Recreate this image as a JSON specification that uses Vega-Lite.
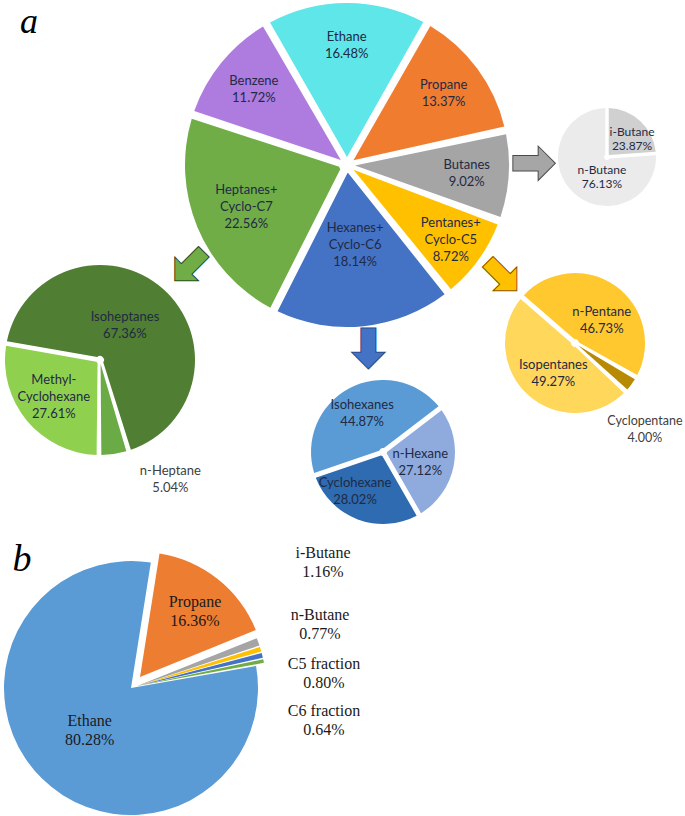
{
  "$schema": "https://vega.github.io/schema/vega-lite/v6.json",
  "padding": 0,
  "background": "white",
  "columns": 3,
  "spacing": 0,
  "align": "each",
  "bounds": "flush",
  "resolve": {"scale": {"color": "independent"}},
  "config": {
    "view": {"stroke": null},
    "text": {"font": "Lato", "fontSize": 13, "lineHeight": 17, "lineBreak": "\n", "color": "#1f2a44"}
  },
  "concat": [
    {
      "width": 58, "height": 66,
      "data": {"values": [{"letter": "a"}]},
      "mark": {"type": "text", "font": "Liberation Serif", "fontStyle": "italic", "fontSize": 36, "baseline": "alphabetic", "color": "#000000"},
      "encoding": {"text": {"field": "letter", "type": "nominal"}}
    },
    {
      "width": 170, "height": 330,
      "data": {"values": [
        {"name": "Ethane", "label": "Ethane\n16.48%", "value": 16.48, "idx": 1},
        {"name": "Propane", "label": "Propane\n13.37%", "value": 13.37, "idx": 2},
        {"name": "Butanes", "label": "Butanes\n9.02%", "value": 9.02, "idx": 3},
        {"name": "Pentanes", "label": "Pentanes+\nCyclo-C5\n8.72%", "value": 8.72, "idx": 4},
        {"name": "Hexanes", "label": "Hexanes+\nCyclo-C6\n18.14%", "value": 18.14, "idx": 5},
        {"name": "Heptanes", "label": "Heptanes+\nCyclo-C7\n22.56%", "value": 22.56, "idx": 6},
        {"name": "Benzene", "label": "Benzene\n11.72%", "value": 11.72, "idx": 7}
      ]},
      "encoding": {
        "theta": {"field": "value", "type": "quantitative", "stack": true, "scale": {"range": [-0.52, 5.7632]}},
        "order": {"field": "idx", "type": "quantitative"}
      },
      "layer": [
        {
          "mark": {"type": "arc", "outerRadius": 162, "innerRadius": 8, "padAngle": 0.05},
          "encoding": {"color": {"field": "name", "type": "nominal", "legend": null,
            "scale": {"domain": ["Ethane", "Propane", "Butanes", "Pentanes", "Hexanes", "Heptanes", "Benzene"],
                      "range": ["#5ee6e9", "#f07c30", "#a5a5a5", "#ffc000", "#4472c4", "#70ad47", "#ae7bde"]}}}
        },
        {
          "mark": {"type": "text", "radius": 120, "dy": -8.5},
          "encoding": {"text": {"condition": {"test": "indexof(['Ethane','Propane','Butanes','Benzene'], datum.name) >= 0", "field": "label"}, "value": ""}}
        },
        {
          "mark": {"type": "text", "radius": 128, "dy": -17},
          "encoding": {"text": {"condition": {"test": "datum.name === 'Pentanes'", "field": "label"}, "value": ""}}
        },
        {
          "mark": {"type": "text", "radius": 109, "dy": -17},
          "encoding": {"text": {"condition": {"test": "datum.name === 'Heptanes'", "field": "label"}, "value": ""}}
        },
        {
          "mark": {"type": "text", "radius": 80, "dy": -17},
          "encoding": {"text": {"condition": {"test": "datum.name === 'Hexanes'", "field": "label"}, "value": ""}}
        },
        {
          "mark": {"type": "text", "radius": 120, "dx": 66.3, "dy": -9.2, "font": "DejaVu Sans", "fontSize": 50, "fill": "#a6a6a6", "stroke": "#4a4a4a", "strokeWidth": 5},
          "encoding": {"text": {"condition": {"test": "datum.name === 'Butanes'", "value": "➡"}, "value": ""}}
        },
        {
          "mark": {"type": "text", "radius": 120, "dx": 66.3, "dy": -9.2, "font": "DejaVu Sans", "fontSize": 50, "fill": "#a6a6a6", "stroke": "#a6a6a6", "strokeWidth": 3},
          "encoding": {"text": {"condition": {"test": "datum.name === 'Butanes'", "value": "➡"}, "value": ""}}
        },
        {
          "mark": {"type": "text", "radius": 120, "dx": 56.7, "dy": 40.8, "font": "DejaVu Sans", "fontSize": 48, "fill": "#ffc000", "stroke": "#7a5000", "strokeWidth": 5},
          "encoding": {"text": {"condition": {"test": "datum.name === 'Pentanes'", "value": "⬊"}, "value": ""}}
        },
        {
          "mark": {"type": "text", "radius": 120, "dx": 56.7, "dy": 40.8, "font": "DejaVu Sans", "fontSize": 48, "fill": "#ffc000", "stroke": "#ffc000", "strokeWidth": 3},
          "encoding": {"text": {"condition": {"test": "datum.name === 'Pentanes'", "value": "⬊"}, "value": ""}}
        },
        {
          "mark": {"type": "text", "radius": 120, "dx": 8.9, "dy": 66.6, "font": "DejaVu Sans", "fontSize": 48, "fill": "#4472c4", "stroke": "#2a4a85", "strokeWidth": 5},
          "encoding": {"text": {"condition": {"test": "datum.name === 'Hexanes'", "value": "⬇"}, "value": ""}}
        },
        {
          "mark": {"type": "text", "radius": 120, "dx": 8.9, "dy": 66.6, "font": "DejaVu Sans", "fontSize": 48, "fill": "#4472c4", "stroke": "#4472c4", "strokeWidth": 3},
          "encoding": {"text": {"condition": {"test": "datum.name === 'Hexanes'", "value": "⬇"}, "value": ""}}
        },
        {
          "mark": {"type": "text", "radius": 120, "dx": -46.2, "dy": 54.9, "font": "DejaVu Sans", "fontSize": 48, "fill": "#70ad47", "stroke": "#2a4a1a", "strokeWidth": 5},
          "encoding": {"text": {"condition": {"test": "datum.name === 'Heptanes'", "value": "⬋"}, "value": ""}}
        },
        {
          "mark": {"type": "text", "radius": 120, "dx": -46.2, "dy": 54.9, "font": "DejaVu Sans", "fontSize": 48, "fill": "#70ad47", "stroke": "#70ad47", "strokeWidth": 3},
          "encoding": {"text": {"condition": {"test": "datum.name === 'Heptanes'", "value": "⬋"}, "value": ""}}
        }
      ]
    },
    {
      "width": 206, "height": 314,
      "data": {"values": [
        {"name": "i-Butane", "label": "i-Butane\n23.87%", "value": 23.87, "idx": 1},
        {"name": "n-Butane", "label": "n-Butane\n76.13%", "value": 76.13, "idx": 2}
      ]},
      "encoding": {
        "theta": {"field": "value", "type": "quantitative", "stack": true, "scale": {"range": [0, 6.2832]}},
        "order": {"field": "idx", "type": "quantitative"}
      },
      "layer": [
        {
          "mark": {"type": "arc", "outerRadius": 49, "innerRadius": 3, "padAngle": 0.07},
          "encoding": {"color": {"field": "name", "type": "nominal", "legend": null,
            "scale": {"domain": ["i-Butane", "n-Butane"], "range": ["#d0d0d0", "#ebebeb"]}}}
        },
        {
          "mark": {"type": "text", "radius": 31, "dx": 3.9, "dy": -2.8, "fontSize": 12, "lineHeight": 14},
          "encoding": {"text": {"condition": {"test": "datum.name === 'i-Butane'", "field": "label"}, "value": ""}}
        },
        {
          "mark": {"type": "text", "radius": 20, "dx": 8.6, "dy": -1.6, "fontSize": 12, "lineHeight": 14},
          "encoding": {"text": {"condition": {"test": "datum.name === 'n-Butane'", "field": "label"}, "value": ""}}
        }
      ]
    },
    {
      "width": 200, "height": 60,
      "data": {"values": [
        {"name": "Isoheptanes", "label": "Isoheptanes\n67.36%", "value": 67.36, "idx": 1},
        {"name": "n-Heptane", "label": "n-Heptane\n5.04%", "value": 5.04, "idx": 2},
        {"name": "Methyl-Cyclohexane", "label": "Methyl-\nCyclohexane\n27.61%", "value": 27.61, "idx": 3}
      ]},
      "encoding": {
        "theta": {"field": "value", "type": "quantitative", "stack": true, "scale": {"range": [-1.3963, 4.8869]}},
        "order": {"field": "idx", "type": "quantitative"}
      },
      "layer": [
        {
          "mark": {"type": "arc", "outerRadius": 95, "innerRadius": 4, "padAngle": 0.05},
          "encoding": {"color": {"field": "name", "type": "nominal", "legend": null,
            "scale": {"domain": ["Isoheptanes", "n-Heptane", "Methyl-Cyclohexane"], "range": ["#507e32", "#6aab46", "#8fd14f"]}}}
        },
        {
          "mark": {"type": "text", "radius": 43, "dx": -3.4, "dy": -10.7},
          "encoding": {"text": {"condition": {"test": "datum.name === 'Isoheptanes'", "field": "label"}, "value": ""}}
        },
        {
          "mark": {"type": "text", "radius": 60, "dy": -18.3},
          "encoding": {"text": {"condition": {"test": "datum.name === 'Methyl-Cyclohexane'", "field": "label"}, "value": ""}}
        },
        {
          "mark": {"type": "text", "radius": 125, "dx": 52, "dy": -12.2, "color": "#404040"},
          "encoding": {"text": {"condition": {"test": "datum.name === 'n-Heptane'", "field": "label"}, "value": ""}}
        }
      ]
    },
    {
      "width": 242, "height": 244,
      "data": {"values": [
        {"name": "Isohexanes", "label": "Isohexanes\n44.87%", "value": 44.87, "idx": 1},
        {"name": "n-Hexane", "label": "n-Hexane\n27.12%", "value": 27.12, "idx": 2},
        {"name": "Cyclohexane", "label": "Cyclohexane\n28.02%", "value": 28.02, "idx": 3}
      ]},
      "encoding": {
        "theta": {"field": "value", "type": "quantitative", "stack": true, "scale": {"range": [-1.9024, 4.3808]}},
        "order": {"field": "idx", "type": "quantitative"}
      },
      "layer": [
        {
          "mark": {"type": "arc", "outerRadius": 72, "innerRadius": 4, "padAngle": 0.07},
          "encoding": {"color": {"field": "name", "type": "nominal", "legend": null,
            "scale": {"domain": ["Isohexanes", "n-Hexane", "Cyclohexane"], "range": ["#5b9bd5", "#8faadc", "#2e6bb0"]}}}
        },
        {
          "mark": {"type": "text", "radius": 44, "dy": -8.5},
          "encoding": {"text": {"condition": {"test": "datum.name === 'Isohexanes'", "field": "label"}, "value": ""}}
        },
        {
          "mark": {"type": "text", "radius": 38, "dy": -5.6},
          "encoding": {"text": {"condition": {"test": "datum.name === 'n-Hexane'", "field": "label"}, "value": ""}}
        },
        {
          "mark": {"type": "text", "radius": 47, "dx": -11.5, "dy": -13},
          "encoding": {"text": {"condition": {"test": "datum.name === 'Cyclohexane'", "field": "label"}, "value": ""}}
        }
      ]
    },
    {
      "width": 142, "height": 26,
      "data": {"values": [
        {"name": "n-Pentane", "label": "n-Pentane\n46.73%", "value": 46.73, "idx": 1},
        {"name": "Cyclopentane", "label": "Cyclopentane\n4.00%", "value": 4.00, "idx": 2},
        {"name": "Isopentanes", "label": "Isopentanes\n49.27%", "value": 49.27, "idx": 3}
      ]},
      "encoding": {
        "theta": {"field": "value", "type": "quantitative", "stack": true, "scale": {"range": [-0.8552, 5.428]}},
        "order": {"field": "idx", "type": "quantitative"}
      },
      "layer": [
        {
          "mark": {"type": "arc", "outerRadius": 70, "innerRadius": 4, "padAngle": 0.07},
          "encoding": {"color": {"field": "name", "type": "nominal", "legend": null,
            "scale": {"domain": ["n-Pentane", "Cyclopentane", "Isopentanes"], "range": ["#ffc82e", "#b88a04", "#ffd75a"]}}}
        },
        {
          "mark": {"type": "text", "radius": 35, "dx": 6.6, "dy": -2.4},
          "encoding": {"text": {"condition": {"test": "datum.name === 'n-Pentane'", "field": "label"}, "value": ""}}
        },
        {
          "mark": {"type": "text", "radius": 37, "dx": 3.2, "dy": -5.1},
          "encoding": {"text": {"condition": {"test": "datum.name === 'Isopentanes'", "field": "label"}, "value": ""}}
        },
        {
          "mark": {"type": "text", "radius": 95, "dx": -6.5, "dy": 21.1, "fontSize": 12.5, "color": "#404040"},
          "encoding": {"text": {"condition": {"test": "datum.name === 'Cyclopentane'", "field": "label"}, "value": ""}}
        }
      ]
    },
    {
      "width": 262, "height": 228,
      "data": {"values": [
        {"name": "Ethane", "label": "Ethane\n80.28%", "value": 80.28, "idx": 1},
        {"name": "Propane", "label": "Propane\n16.36%", "value": 16.36, "idx": 2},
        {"name": "i-Butane", "label": "i-Butane\n1.16%", "value": 1.16, "idx": 3},
        {"name": "n-Butane", "label": "n-Butane\n0.77%", "value": 0.77, "idx": 4},
        {"name": "C5 fraction", "label": "C5 fraction\n0.80%", "value": 0.80, "idx": 5},
        {"name": "C6 fraction", "label": "C6 fraction\n0.64%", "value": 0.64, "idx": 6}
      ]},
      "layer": [
        {
          "mark": {"type": "arc", "outerRadius": 127},
          "encoding": {
            "theta": {"field": "value", "type": "quantitative", "stack": true, "scale": {"range": [1.3963, 7.6795]}},
            "order": {"field": "idx", "type": "quantitative"},
            "color": {"field": "name", "type": "nominal", "legend": null,
              "scale": {"domain": ["Ethane", "Propane", "i-Butane", "n-Butane", "C5 fraction", "C6 fraction"],
                        "range": ["#5b9bd5", "#ed7d31", "#a5a5a5", "#ffc000", "#4472c4", "#70ad47"]}},
            "opacity": {"condition": {"test": "datum.name === 'Ethane'", "value": 1}, "value": 0}
          }
        },
        {
          "mark": {"type": "arc", "outerRadius": 125, "xOffset": 9, "yOffset": -11},
          "encoding": {
            "theta": {"field": "value", "type": "quantitative", "stack": true},
            "order": {"field": "idx", "type": "quantitative"},
            "color": {"field": "name", "type": "nominal", "legend": null},
            "opacity": {"condition": {"test": "datum.name === 'Propane'", "value": 1}, "value": 0}
          }
        },
        {
          "mark": {"type": "arc", "outerRadius": 129, "padAngle": 0.012, "xOffset": 6, "yOffset": -2},
          "encoding": {
            "theta": {"field": "value", "type": "quantitative", "stack": true},
            "order": {"field": "idx", "type": "quantitative"},
            "color": {"field": "name", "type": "nominal", "legend": null},
            "opacity": {"condition": {"test": "datum.idx > 2", "value": 1}, "value": 0}
          }
        },
        {
          "mark": {"type": "text", "radius": 59, "dy": -9.5, "font": "Liberation Serif", "fontSize": 16, "lineHeight": 19, "color": "#1a1a1a"},
          "encoding": {
            "theta": {"field": "value", "type": "quantitative", "stack": true},
            "order": {"field": "idx", "type": "quantitative"},
            "text": {"condition": {"test": "datum.name === 'Ethane'", "field": "label"}, "value": ""}
          }
        },
        {
          "mark": {"type": "text", "radius": 99, "dx": 2.5, "dy": -8.9, "font": "Liberation Serif", "fontSize": 16, "lineHeight": 19, "color": "#1a1a1a"},
          "encoding": {
            "theta": {"field": "value", "type": "quantitative", "stack": true},
            "order": {"field": "idx", "type": "quantitative"},
            "text": {"condition": {"test": "datum.name === 'Propane'", "field": "label"}, "value": ""}
          }
        },
        {
          "mark": {"type": "text", "radius": 180, "dx": 22.9, "dy": -73.3, "font": "Liberation Serif", "fontSize": 16, "lineHeight": 19, "color": "#1a1a1a"},
          "encoding": {
            "theta": {"field": "value", "type": "quantitative", "stack": true},
            "order": {"field": "idx", "type": "quantitative"},
            "text": {"condition": {"test": "datum.name === 'i-Butane'", "field": "label"}, "value": ""}
          }
        },
        {
          "mark": {"type": "text", "radius": 180, "dx": 16.5, "dy": -21.2, "font": "Liberation Serif", "fontSize": 16, "lineHeight": 19, "color": "#1a1a1a"},
          "encoding": {
            "theta": {"field": "value", "type": "quantitative", "stack": true},
            "order": {"field": "idx", "type": "quantitative"},
            "text": {"condition": {"test": "datum.name === 'n-Butane'", "field": "label"}, "value": ""}
          }
        },
        {
          "mark": {"type": "text", "radius": 180, "dx": 18.1, "dy": 19.2, "font": "Liberation Serif", "fontSize": 16, "lineHeight": 19, "color": "#1a1a1a"},
          "encoding": {
            "theta": {"field": "value", "type": "quantitative", "stack": true},
            "order": {"field": "idx", "type": "quantitative"},
            "text": {"condition": {"test": "datum.name === 'C5 fraction'", "field": "label"}, "value": ""}
          }
        },
        {
          "mark": {"type": "text", "radius": 180, "dx": 16.4, "dy": 58.3, "font": "Liberation Serif", "fontSize": 16, "lineHeight": 19, "color": "#1a1a1a"},
          "encoding": {
            "theta": {"field": "value", "type": "quantitative", "stack": true},
            "order": {"field": "idx", "type": "quantitative"},
            "text": {"condition": {"test": "datum.name === 'C6 fraction'", "field": "label"}, "value": ""}
          }
        },
        {
          "data": {"values": [{"letter": "b"}]},
          "mark": {"type": "text", "dx": -109, "dy": -117, "font": "Liberation Serif", "fontStyle": "italic", "fontSize": 38, "baseline": "alphabetic", "color": "#000000"},
          "encoding": {"text": {"field": "letter", "type": "nominal"}}
        }
      ]
    }
  ]
}
